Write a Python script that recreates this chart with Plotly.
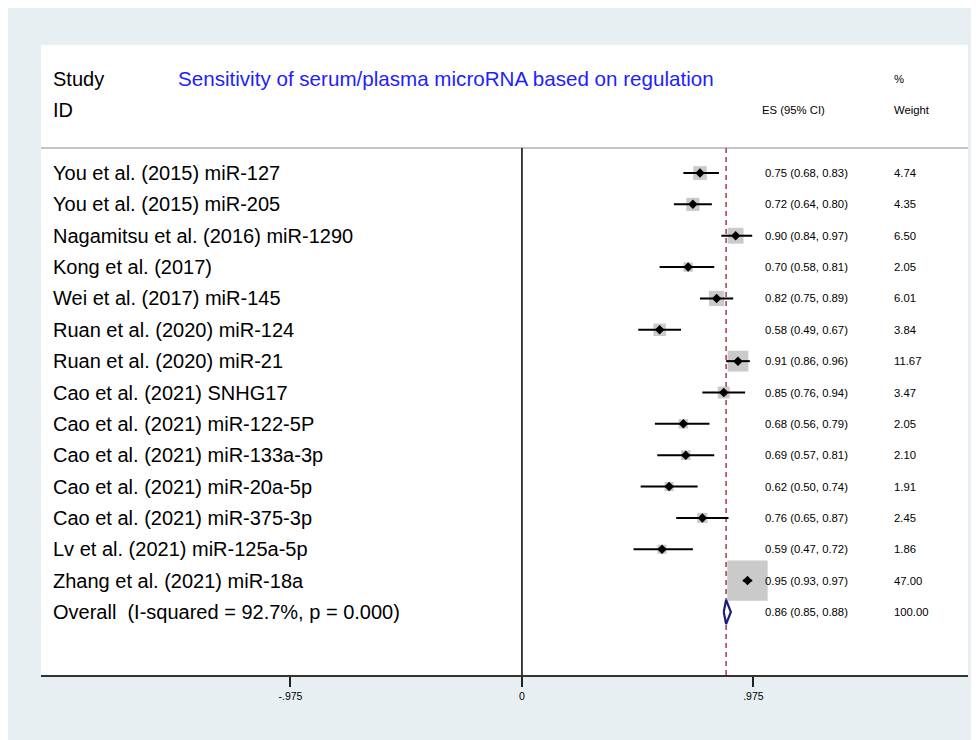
import math
import plotly.graph_objects as go

# ---------------- data ----------------
studies = [
    "You et al. (2015) miR-127",
    "You et al. (2015) miR-205",
    "Nagamitsu et al. (2016) miR-1290",
    "Kong et al. (2017)",
    "Wei et al. (2017) miR-145",
    "Ruan et al. (2020) miR-124",
    "Ruan et al. (2020) miR-21",
    "Cao et al. (2021) SNHG17",
    "Cao et al. (2021) miR-122-5P",
    "Cao et al. (2021) miR-133a-3p",
    "Cao et al. (2021) miR-20a-5p",
    "Cao et al. (2021) miR-375-3p",
    "Lv et al. (2021) miR-125a-5p",
    "Zhang et al. (2021) miR-18a",
]
es = [0.75, 0.72, 0.90, 0.70, 0.82, 0.58, 0.91, 0.85, 0.68, 0.69, 0.62, 0.76, 0.59, 0.95]
ci_low = [0.68, 0.64, 0.84, 0.58, 0.75, 0.49, 0.86, 0.76, 0.56, 0.57, 0.50, 0.65, 0.47, 0.93]
ci_high = [0.83, 0.80, 0.97, 0.81, 0.89, 0.67, 0.96, 0.94, 0.79, 0.81, 0.74, 0.87, 0.72, 0.97]
weights = [4.74, 4.35, 6.50, 2.05, 6.01, 3.84, 11.67, 3.47, 2.05, 2.10, 1.91, 2.45, 1.86, 47.00]

overall_label = "Overall\u00a0 (I-squared = 92.7%, p = 0.000)"
overall_es = 0.86
overall_low = 0.85
overall_high = 0.88
overall_weight = 100.00

title_text = "Sensitivity of serum/plasma microRNA based on regulation"
tick_vals = [-0.975, 0, 0.975]
tick_text = ["-.975", "0", ".975"]

# ---------------- layout constants ----------------
FONT = "Liberation Sans, Arial, Helvetica, sans-serif"
rows = list(range(1, len(studies) + 1))
overall_row = len(studies) + 1
sep_row = 0.2
y_bottom = 17.01
y_top = -3.083
x_range = [-2.026, 1.879]
label_x = -1.985
title_x = -1.458
es_col_x = 1.015
w_col_x = 1.558
SMALL = 11.3
BIG = 20

fig = go.Figure()

# weight boxes
box_sizes = [5.7 * math.sqrt(w) + 1.3 for w in weights]
fig.add_trace(go.Scatter(
    x=es, y=rows, mode="markers",
    marker=dict(symbol="square", size=box_sizes, color="#b4b4b4", line=dict(width=0)),
    hoverinfo="skip", showlegend=False,
))

# CIs + point estimates
fig.add_trace(go.Scatter(
    x=es, y=rows, mode="markers",
    marker=dict(symbol="diamond", size=7.3, color="black", line=dict(width=0)),
    error_x=dict(type="data", symmetric=False,
                 array=[h - e for h, e in zip(ci_high, es)],
                 arrayminus=[e - l for e, l in zip(es, ci_low)],
                 color="black", thickness=2, width=0),
    hoverinfo="skip", showlegend=False,
))

# overall diamond
dh = 0.385
fig.add_trace(go.Scatter(
    x=[overall_low, overall_es, overall_high, overall_es, overall_low],
    y=[overall_row, overall_row - dh, overall_row, overall_row + dh, overall_row],
    mode="lines", fill="toself", fillcolor="white",
    line=dict(color="#1b1b84", width=2.2),
    hoverinfo="skip", showlegend=False,
))

shapes = [
    # header separator
    dict(type="line", xref="paper", yref="y", x0=0, x1=1, y0=sep_row, y1=sep_row,
         line=dict(color="#b0b0b0", width=1.5), layer="below"),
    # no-effect line
    dict(type="line", xref="x", yref="y", x0=0, x1=0, y0=sep_row, y1=y_bottom,
         line=dict(color="black", width=1.5), layer="below"),
    # overall line
    dict(type="line", xref="x", yref="y", x0=overall_es, x1=overall_es, y0=sep_row, y1=y_bottom,
         line=dict(color="#a33a48", width=1.5, dash="5px,4px"), layer="below"),
]

ann = []
def add_text(x, y, text, size, color="black"):
    ann.append(dict(x=x, y=y, xref="x", yref="y", text=text, showarrow=False,
                    xanchor="left", yanchor="middle",
                    font=dict(family=FONT, size=size, color=color)))

# header
add_text(label_x, -2, "Study", BIG)
add_text(label_x, -1, "ID", BIG)
add_text(title_x, -2, title_text, 20.6, "#1e1eff")
add_text(w_col_x, -2, "%", SMALL)
add_text(es_col_x - 0.012, -1, "ES (95% CI)", SMALL)
add_text(w_col_x, -1, "Weight", SMALL)

for r, s, e, l, h, w in zip(rows, studies, es, ci_low, ci_high, weights):
    add_text(label_x, r, s, BIG)
    add_text(es_col_x, r, f"{e:.2f} ({l:.2f}, {h:.2f})", SMALL)
    add_text(w_col_x, r, f"{w:.2f}", SMALL)

add_text(label_x, overall_row, overall_label, BIG)
add_text(es_col_x, overall_row, f"{overall_es:.2f} ({overall_low:.2f}, {overall_high:.2f})", SMALL)
add_text(w_col_x, overall_row, f"{overall_weight:.2f}", SMALL)

fig.update_layout(
    width=979, height=740,
    margin=dict(l=33, r=19, t=37, b=73, pad=0),
    paper_bgcolor="#e8eff2",
    plot_bgcolor="white",
    font=dict(family=FONT, color="black"),
    shapes=shapes,
    annotations=ann,
    showlegend=False,
    xaxis=dict(range=x_range, tickvals=tick_vals, ticktext=tick_text,
               ticks="outside", ticklen=10, tickwidth=1.5, tickcolor="#222",
               showline=True, linecolor="#333", linewidth=2, mirror=False,
               showgrid=False, zeroline=False,
               tickfont=dict(family=FONT, size=10.5, color="black"), fixedrange=True),
    yaxis=dict(range=[y_bottom, y_top], visible=False, showgrid=False, zeroline=False,
               fixedrange=True),
)

fig.write_html("out.html")
